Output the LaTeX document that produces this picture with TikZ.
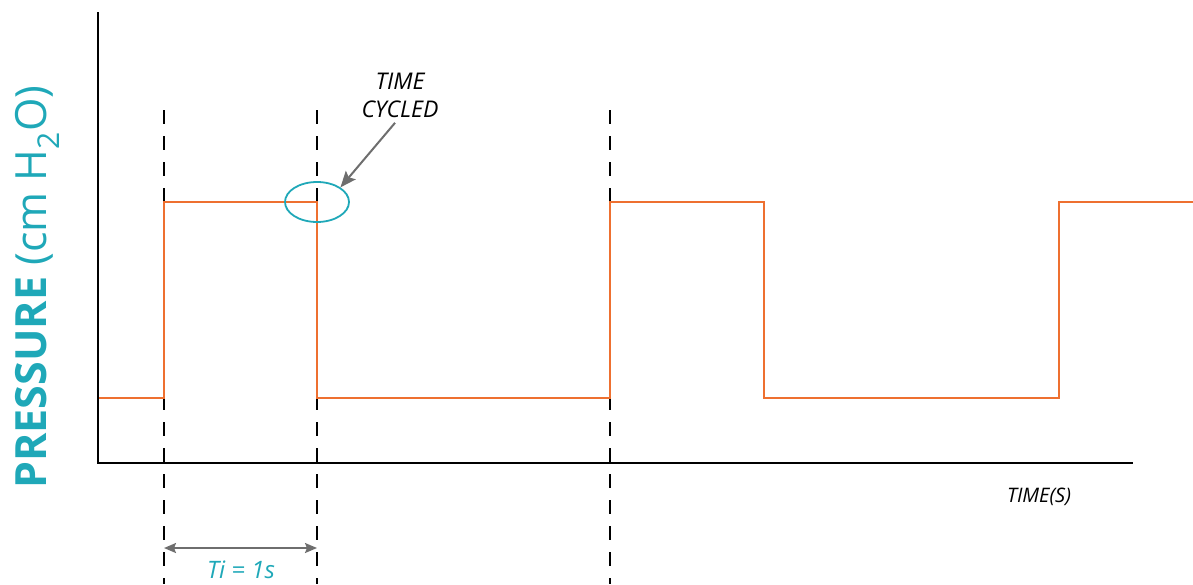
\documentclass[tikz,border=0pt]{standalone}
\usepackage{fontspec}
\setmainfont{Open Sans}
\usetikzlibrary{arrows.meta,shapes.geometric}
\definecolor{teal}{RGB}{31,168,184}
\definecolor{sig}{RGB}{238,112,48}
\definecolor{arrgray}{RGB}{110,110,110}
\tikzset{
  axisline/.style={line width=2.8pt,black},
  guide/.style={line width=1.6pt,black,dash pattern=on 14pt off 12pt},
  signal/.style={line width=1.8pt,sig},
  pointer/.style={line width=2pt,arrgray,-{Stealth[length=16pt,width=13pt,inset=3pt]}},
  span/.style={line width=2pt,arrgray,{Stealth[length=12pt,width=10pt,inset=2pt]}-{Stealth[length=12pt,width=10pt,inset=2pt]}},
}
\begin{document}
\begin{tikzpicture}[x=1pt,y=-1pt]
\useasboundingbox (0,0) rectangle (1193,584);
% guides
\foreach \gx/\nm in {164/g1,317/g2,610/g3}{
  \coordinate (\nm top) at (\gx,110);
  \coordinate (\nm bot) at (\gx,584);
  \draw[guide] (\nm top) -- (\nm bot);
}
% signal
\draw[signal] (98,398) -- (164,398) -- (164,202) -- (317,202) -- (317,398) -- (610,398) -- (610,202) -- (764,202) -- (764,398) -- (1059,398) -- (1059,202) -- (1193,202);
% axes
\coordinate (origin) at (98,463);
\coordinate (ytop) at (98,12);
\coordinate (xend) at (1133,463);
\draw[axisline] (ytop) -- (origin) -- (xend);
% ellipse
\node[ellipse,draw=teal,line width=1.8pt,minimum width=64pt,minimum height=40pt,inner sep=0pt] (ell) at (317,202) {};
% label
\node[font=\fontsize{23}{28}\selectfont\itshape,align=center] (tc) at (400,95) {TIME\\CYCLED};
\draw[pointer] ([xshift=-5pt,yshift=-2pt]tc.south) -- (ell.32);
% Ti span
\coordinate (sa) at (164,548);
\coordinate (sb) at (317,548);
\draw[span] (sa) -- (sb);
\node[font=\fontsize{24}{28}\selectfont\itshape,text=teal] (ti) at (241,570) {Ti = 1s};
% x label
\node[font=\fontsize{20}{24}\selectfont\itshape] (xl) at (1039,497) {TIME(S)};
% y label
\node[rotate=90,anchor=base,text=teal,font=\fontsize{43}{48}\selectfont] (yl) at (46,287) {\textbf{PRESSURE} (cm H\textsubscript{2}O)};
\end{tikzpicture}
\end{document}
